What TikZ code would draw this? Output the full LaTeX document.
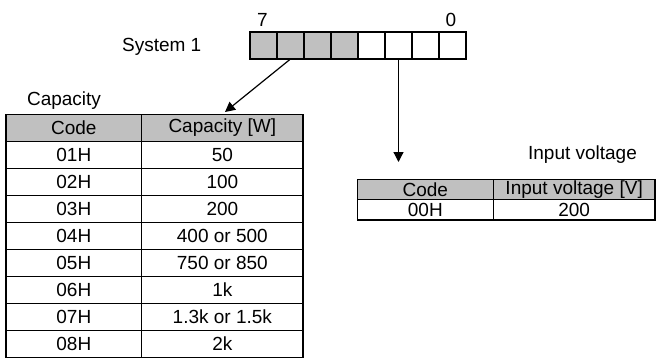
\documentclass[tikz,border=0pt]{standalone}
\usepackage{fontspec}
\setmainfont{Liberation Sans}
\usetikzlibrary{arrows.meta}
\definecolor{headgray}{RGB}{192,192,192}

\begin{document}
\begin{tikzpicture}[x=1pt, y=-1pt, font=\fontsize{19}{21}\selectfont,
    every node/.style={inner sep=0pt, outer sep=0pt},
    bitcell/.style={draw, line width=1.5pt, minimum width=27pt, minimum height=27pt, anchor=north west},
    cell/.style={draw, line width=1.5pt, anchor=north west},
    pointer/.style={line width=1.2pt, -{Triangle[length=10pt, width=10pt]}}]
    \useasboundingbox (0,0) rectangle (659,360);
    % register
    \foreach \b [count=\i from 0] in {7,6,5,4}
        \node[bitcell, fill=headgray] (b\b) at (250+27*\i, 32) {};
    \foreach \b [count=\i from 4] in {3,2,1,0}
        \node[bitcell, fill=white] (b\b) at (250+27*\i, 32) {};
    \node (msb) at (262.5,20) {7};
    \node (lsb) at (451,20) {0};
    \node (sys) at (161.7,46.5) {System 1};
    % capacity table
    \node (captitle) at (64,101) {Capacity};
    \node[cell, fill=headgray, minimum width=135.7pt, minimum height=27pt] (codehead) at (6,114.3) {Code};
    \node[cell, fill=headgray, minimum width=161.3pt, minimum height=27pt] (caphead) at (141.7,114.3) {Capacity [W]};
    \foreach \code/\cap [count=\i] in {01H/50, 02H/100, 03H/200, 04H/400 or 500,
        05H/750 or 850, 06H/1k, 07H/1.3k or 1.5k, 08H/2k} {
        \node[cell, minimum width=135.7pt, minimum height=27pt] (code\i) at (6,114.3+27*\i) {\code};
        \node[cell, minimum width=161.3pt, minimum height=27pt] (cap\i) at (141.7,114.3+27*\i) {\cap};
    }
    % input voltage table
    \node (vtitle) at (582.5,154.5) {Input voltage};
    \node[cell, fill=headgray, minimum width=136pt, minimum height=20.4pt] (vcodehead) at (357.3,179.3) {Code};
    \node[cell, fill=headgray, minimum width=161.7pt, minimum height=20.4pt] (volthead) at (493.3,179.3) {Input voltage [V]};
    \node[cell, minimum width=136pt, minimum height=20.4pt] (vcode1) at (357.3,199.7) {00H};
    \node[cell, minimum width=161.7pt, minimum height=20.4pt] (volt1) at (493.3,199.7) {200};
    % pointers
    \coordinate (captip) at (225,112);
    \coordinate (volttip) at (b2.south |- 0,162);
    \draw[pointer] (b6.south) -- (captip);
    \draw[pointer] (b2.south) -- (volttip);
\end{tikzpicture}
\end{document}
